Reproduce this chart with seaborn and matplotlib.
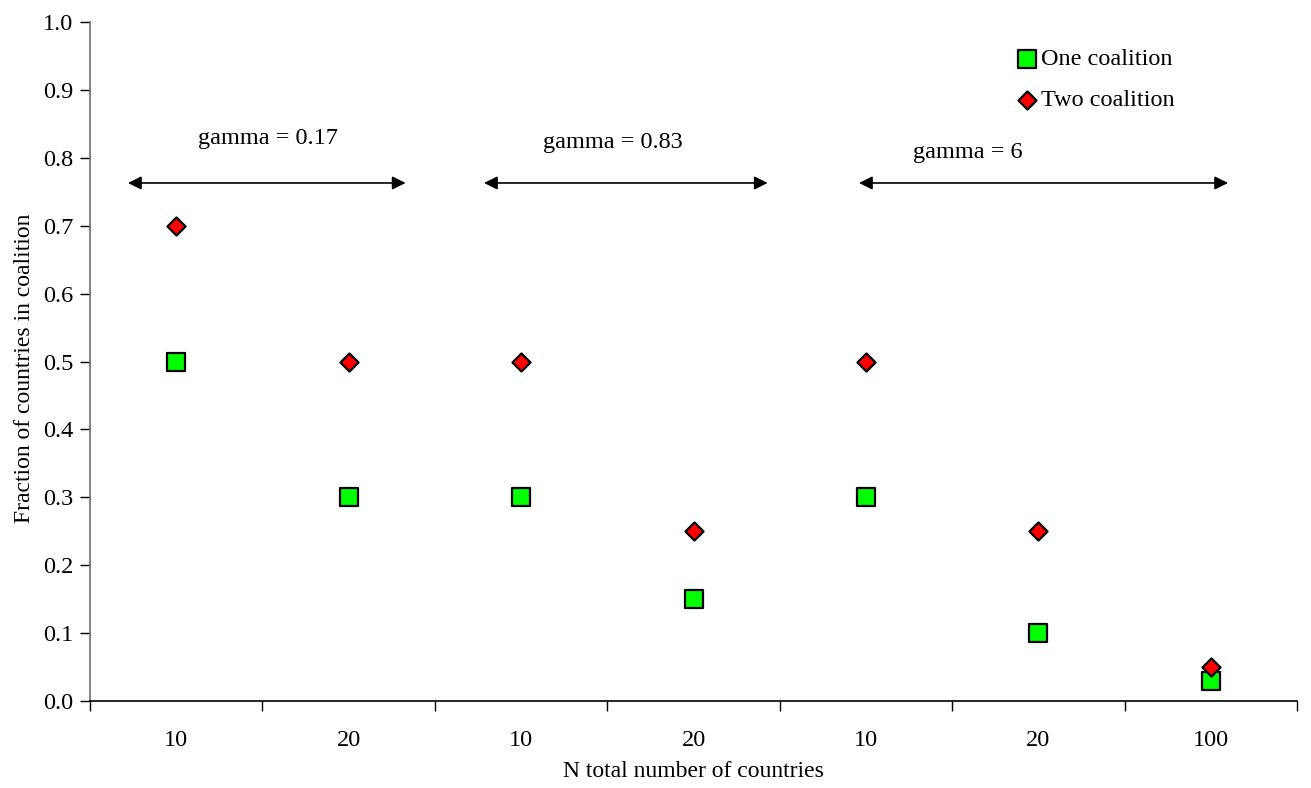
import matplotlib
matplotlib.use("Agg")
import matplotlib.pyplot as plt
import seaborn as sns
import pandas as pd
import numpy as np

# Data
n_labels = ["10", "20", "10", "20", "10", "20", "100"]
one_coalition = [0.5, 0.3, 0.3, 0.15, 0.3, 0.1, 0.03]
two_coalition = [0.7, 0.5, 0.5, 0.25, 0.5, 0.25, 0.05]
gamma_labels = ["gamma = 0.17", "gamma = 0.83", "gamma = 6"]

sns.set_theme(style="ticks")
plt.rcParams["font.family"] = ["Liberation Serif", "DejaVu Serif"]
plt.rcParams["text.color"] = "black"
plt.rcParams["axes.labelcolor"] = "black"
plt.rcParams["xtick.color"] = "black"
plt.rcParams["ytick.color"] = "black"

pos = np.arange(len(n_labels))
df_one = pd.DataFrame({"pos": pos, "value": one_coalition})
df_two = pd.DataFrame({"pos": pos, "value": two_coalition})

fig = plt.figure(figsize=(13.11, 7.88), dpi=100)
ax = fig.add_axes([0.0687, 0.1104, 0.9206, 0.8616])

sns.scatterplot(data=df_one, x="pos", y="value", marker="s", s=13.5 ** 2,
                color="#00ff00", edgecolor="black", linewidth=1.6,
                label="One coalition", ax=ax, zorder=3)
sns.scatterplot(data=df_two, x="pos", y="value", marker="D", s=9.2 ** 2,
                color="#ff0000", edgecolor="black", linewidth=1.6,
                label="Two coalition", ax=ax, zorder=4)

ax.set_xlim(-0.5, len(n_labels) - 0.5)
ax.set_ylim(0, 1.0)
ax.set_yticks(np.arange(0, 1.01, 0.1))
ax.set_yticklabels([f"{v:.1f}" for v in np.arange(0, 1.01, 0.1)])
ax.set_xticks(pos)
ax.set_xticklabels(n_labels)
ax.set_xticks(np.arange(-0.5, len(n_labels), 1.0), minor=True)
ax.tick_params(axis="x", which="major", length=0, pad=21, labelsize=17.5)
ax.tick_params(axis="x", which="minor", length=7, width=1, color="black")
ax.tick_params(axis="y", length=7, width=1, color="black", labelsize=17.5, pad=5)

for side in ("top", "right"):
    ax.spines[side].set_visible(False)
ax.spines["bottom"].set_color("black")
ax.spines["bottom"].set_linewidth(1.2)
ax.spines["left"].set_color("#707070")
ax.spines["left"].set_linewidth(1.2)

ax.set_xlabel("N total number of countries", fontsize=17, labelpad=7)
ax.set_ylabel("Fraction of countries in coalition", fontsize=17)
ax.yaxis.set_label_coords(-0.046, 0.49)

# Gamma ranges
arrow_spans = [(-0.28, 1.33), (1.785, 3.43), (3.96, 6.10)]
text_pos = [(0.53, 0.829), (2.53, 0.823), (4.59, 0.808)]
arrow_y = 0.763
for (x0, x1), (tx, ty), lab in zip(arrow_spans, text_pos, gamma_labels):
    ax.annotate("", xy=(x1, arrow_y), xytext=(x0, arrow_y),
                arrowprops=dict(arrowstyle="<|-|>", color="black", lw=1.2,
                                mutation_scale=20, shrinkA=0, shrinkB=0))
    ax.text(tx, ty, lab, ha="center", va="center", fontsize=17.5)

leg = ax.legend(loc="upper left", bbox_to_anchor=(0.75, 0.987), frameon=False,
                fontsize=17.5, handletextpad=0.0, handlelength=1.2,
                labelspacing=0.78, borderpad=0.2)

fig.savefig("out.png", dpi=100)
